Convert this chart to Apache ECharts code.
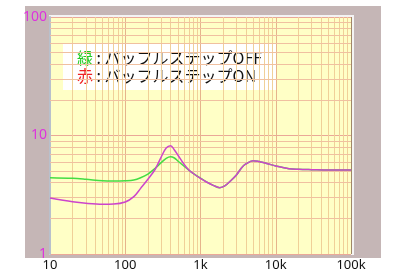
<!DOCTYPE html>
<html><head><meta charset="utf-8">
<script src="https://cdn.jsdelivr.net/npm/echarts@6/dist/echarts.min.js"></script>
<style>html,body{margin:0;padding:0;background:#fff}#c{width:398px;height:272px}</style>
</head><body><div id="c"></div>
<script>
const freqs = [10,20,30,50,70,100,130,160,200,250,300,350,400,450,500,600,700,800,1000,1200,1500,1800,2100,2500,3000,3500,4000,5000,6000,7000,8000,10000,15000,20000,30000,50000,100000];
const greenOff = [4.40,4.35,4.27,4.15,4.13,4.15,4.21,4.40,4.73,5.29,5.9,6.42,6.62,6.46,6.09,5.53,5.11,4.80,4.36,4.06,3.78,3.63,3.75,4.13,4.64,5.32,5.75,6.13,6.03,5.89,5.75,5.53,5.25,5.19,5.15,5.11,5.11];
const redOn = [2.97,2.76,2.68,2.63,2.64,2.75,3.05,3.58,4.27,5.19,6.58,7.84,8.2,7.55,6.85,5.75,5.11,4.78,4.34,4.05,3.78,3.63,3.75,4.13,4.64,5.32,5.75,6.13,6.03,5.89,5.75,5.53,5.25,5.19,5.15,5.11,5.11];
const xTickLabels = {10:'10',100:'100',1000:'1k',10000:'10k',100000:'100k'};
const yTickLabels = {1:'1',10:'10',100:'100'};
const xMinor = [];
[10,100,1000,10000].forEach(d=>{for(let k=2;k<=9;k++) xMinor.push(d*k);});
const yMinor = [];
[1,10].forEach(d=>{for(let k=2;k<=9;k++) yMinor.push(d*k);});
const legendGreen = '緑';
const legendRed = '赤';
const legendOff = ' : バッフルステップOFF';
const legendOn = ' : バッフルステップON';

const chart = echarts.init(document.getElementById('c'), null, {renderer:'canvas'});
const fontFam = '"Noto Sans CJK JP","Noto Sans",sans-serif';
chart.setOption({
  animation:false,
  backgroundColor:'#ffffff',
  graphic:[
    {type:'rect', z:-10, shape:{x:25,y:6,width:356,height:252}, style:{fill:'#c5b6b6'}},
    {type:'rect', z:-9, shape:{x:49,y:15,width:305,height:240}, style:{fill:'#f4f4f4'}},
    {type:'group', z:100, children:[
      {type:'rect', shape:{x:63,y:44,width:214,height:46}, style:{fill:'#ffffff'}},
      {type:'text', style:{x:77,y:58, verticalAlign:'middle', text:'{g|'+legendGreen+'}{k|'+legendOff+'}',
        rich:{g:{fill:'#22cc22',fontSize:16,fontFamily:fontFam}, k:{fill:'#111',fontSize:16,fontFamily:fontFam}}}},
      {type:'text', style:{x:77,y:76, verticalAlign:'middle', text:'{r|'+legendRed+'}{k|'+legendOn+'}',
        rich:{r:{fill:'#ee2222',fontSize:16,fontFamily:fontFam}, k:{fill:'#111',fontSize:16,fontFamily:fontFam}}}}
    ]}
  ],
  grid:{left:50, top:17, width:301, height:237, show:true, backgroundColor:'#ffffc6', borderWidth:0},
  xAxis:{type:'log', logBase:10, min:10, max:100000,
    axisLine:{show:false}, axisTick:{show:false},
    axisLabel:{color:'#111', fontSize:13, margin:5, fontFamily:'"Noto Sans",sans-serif',
      formatter:v=>xTickLabels[Math.round(v)]||''},
    splitLine:{show:true, lineStyle:{color:'#e6b48c', width:1}}},
  yAxis:{type:'log', logBase:10, min:1, max:100,
    axisLine:{show:true, lineStyle:{color:'#b8c0cc', width:2}}, axisTick:{show:false},
    axisLabel:{color:'#dd33dd', fontSize:14, margin:3, fontFamily:'"Noto Sans",sans-serif',
      formatter:v=>yTickLabels[Math.round(v)]||''},
    splitLine:{show:true, lineStyle:{color:'#eaa898', width:1}}},
  series:[
    {type:'line', data:[], silent:true,
      markLine:{silent:true, symbol:['none','none'], label:{show:false},
        lineStyle:{color:'#f0d098', type:'solid', width:1},
        data: xMinor.map(v=>({xAxis:v}))}},
    {type:'line', data:[], silent:true,
      markLine:{silent:true, symbol:['none','none'], label:{show:false},
        lineStyle:{color:'#f0c0a0', type:'solid', width:1},
        data: yMinor.map(v=>({yAxis:v})).concat([{xAxis:100000, lineStyle:{color:'#a08868',width:1}}])}},
    {name:'OFF', type:'line', smooth:0.35, symbol:'none', z:5,
      lineStyle:{color:'#44dd44', width:1.5},
      data: freqs.map((f,i)=>[f, greenOff[i]])},
    {name:'ON', type:'line', smooth:0.35, symbol:'none', z:6,
      lineStyle:{color:'#cc44cc', width:1.5},
      data: freqs.map((f,i)=>[f, redOn[i]])}
  ]
});
</script></body></html>
